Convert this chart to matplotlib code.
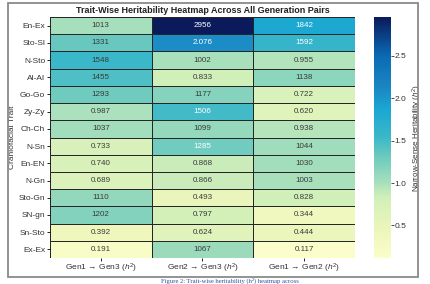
import numpy as np
import matplotlib
matplotlib.use("Agg")
import matplotlib.pyplot as plt
from matplotlib.colors import LinearSegmentedColormap, Normalize
from matplotlib.patches import Rectangle

plt.rcParams["font.family"] = ["Liberation Sans", "DejaVu Sans"]
plt.rcParams["mathtext.fontset"] = "custom"
plt.rcParams["mathtext.it"] = "Liberation Sans:italic"
plt.rcParams["mathtext.rm"] = "Liberation Sans"

traits = ["En-Ex", "Sto-Sl", "N-Sto", "Al-Al", "Go-Go", "Zy-Zy", "Ch-Ch",
          "N-Sn", "En-EN", "N-Gn", "Sto-Gn", "SN-gn", "Sn-Sto", "Ex-Ex"]
pairs = ["Gen1 \u2192 Gen3 ($h^2$)", "Gen2 \u2192 Gen3 ($h^2$)", "Gen1 \u2192 Gen2 ($h^2$)"]

gen1_gen3 = [1.013, 1.331, 1.548, 1.455, 1.293, 0.987, 1.037,
             0.733, 0.740, 0.689, 1.110, 1.202, 0.392, 0.191]
gen2_gen3 = [2.956, 2.076, 1.002, 0.833, 1.177, 1.506, 1.099,
             1.285, 0.868, 0.866, 0.493, 0.797, 0.624, 1.067]
gen1_gen2 = [1.842, 1.592, 0.955, 1.138, 0.722, 0.620, 0.938,
             1.044, 1.030, 1.003, 0.828, 0.344, 0.444, 0.117]

# cell labels as printed in the figure
labels = [
    ["1013", "2956", "1842"], ["1331", "2.076", "1592"], ["1548", "1002", "0.955"],
    ["1455", "0.833", "1138"], ["1293", "1177", "0.722"], ["0.987", "1506", "0.620"],
    ["1037", "1099", "0.938"], ["0.733", "1285", "1044"], ["0.740", "0.868", "1030"],
    ["0.689", "0.866", "1003"], ["1110", "0.493", "0.828"], ["1202", "0.797", "0.344"],
    ["0.392", "0.624", "0.444"], ["0.191", "1067", "0.117"],
]

H = np.column_stack([gen1_gen3, gen2_gen3, gen1_gen2])

cmap = LinearSegmentedColormap.from_list("herit", [
    (0.00, "#fbfdcb"), (0.10, "#eef7bc"), (0.25, "#d2efb9"), (0.31, "#a8e0bc"),
    (0.42, "#6ccabe"), (0.50, "#3cb8c8"), (0.62, "#1aa6d2"), (0.70, "#1c88c4"),
    (0.84, "#0a6ab4"), (1.00, "#0a1a5a")])
norm = Normalize(vmin=H.min(), vmax=H.max())

W, HH = 431, 284
fig = plt.figure(figsize=(W / 100, HH / 100), dpi=100)

def fx(px): return px / W
def fy(py): return 1 - py / HH

ax = fig.add_axes([fx(50), fy(258), fx(355) - fx(50), fy(17) - fy(258)])
cax = fig.add_axes([fx(374), fy(258), fx(391) - fx(374), fy(17) - fy(258)])

nr, nc = H.shape
mesh = ax.pcolormesh(np.arange(nc + 1), np.arange(nr + 1), H, cmap=cmap, norm=norm,
                     edgecolors="#262626", linewidth=0.7)
ax.set_xlim(0, nc)
ax.set_ylim(nr, 0)
for i in range(nr):
    for j in range(nc):
        white = H[i, j] > 1.25 and j > 0
        ax.text(j + 0.5, i + 0.5, labels[i][j], ha="center", va="center",
                fontsize=5.8, color="white" if white else "#3a3a3a")

ax.set_xticks(np.arange(nc) + 0.5)
ax.set_xticklabels(pairs, fontsize=6, color="#333333")
ax.set_yticks(np.arange(nr) + 0.5)
ax.set_yticklabels(traits, fontsize=6, color="#333333")
ax.tick_params(length=2, width=0.6, pad=1.5)
ax.tick_params(axis="x", pad=1)
for s in ax.spines.values():
    s.set_visible(False)
ax.set_ylabel("Craniofacial Trait", fontsize=6, color="#333333", labelpad=2)
ax.set_title("Trait-Wise Heritability Heatmap Across All Generation Pairs",
             fontsize=6.5, fontweight="bold", color="#222222", pad=3)

cb = fig.colorbar(mesh, cax=cax)
cb.outline.set_visible(False)
cb.set_ticks([0.5, 1.0, 1.5, 2.0, 2.5])
cb.ax.tick_params(labelsize=6, length=2, width=0.6, pad=0.5, colors="#333333")
cb.set_label("Narrow-Sense Heritability ($h^2$)", fontsize=5.8, color="#333333", labelpad=3)

fig.patches.append(Rectangle((fx(8), fy(277)), fx(418) - fx(8), fy(3) - fy(277),
                             transform=fig.transFigure, fill=False,
                             edgecolor="#8a8a8a", linewidth=1.3))
fig.text(fx(230), fy(283.5), "Figure 2: Trait-wise heritability (h\u00b2) heatmap across",
         ha="center", va="bottom", fontsize=4.8, color="#3050a0",
         family=["Liberation Serif", "DejaVu Serif"])

fig.savefig("out.png", dpi=100)
